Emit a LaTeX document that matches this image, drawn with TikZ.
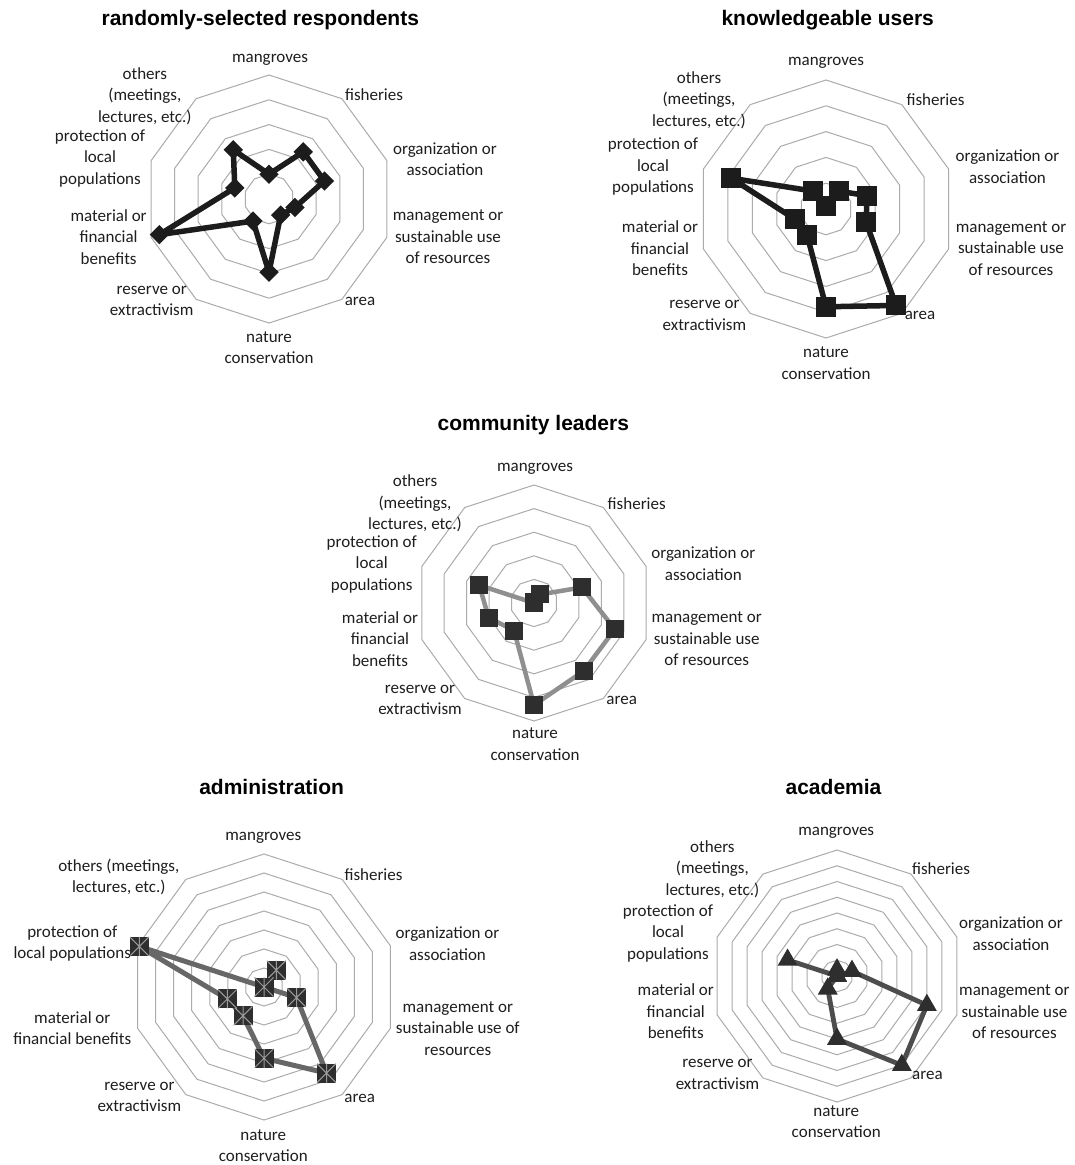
\documentclass[tikz,border=0pt]{standalone}
\usepackage{fontspec}
\setmainfont{Carlito}
\newfontfamily\ttlfont{Liberation Sans}
\usetikzlibrary{shapes.geometric}
\definecolor{gridc}{HTML}{ABABAB}
\definecolor{txtc}{HTML}{1E1E1E}
\definecolor{mkc}{HTML}{2E2E2E}
\definecolor{lnA}{HTML}{1C1C1C}
\definecolor{lnC}{HTML}{8F8F8F}
\definecolor{lnD}{HTML}{676767}
\definecolor{lnE}{HTML}{4D4D4D}
\definecolor{xc}{HTML}{9A9A9A}
\tikzset{
  ringline/.style={draw=gridc, line width=1pt, line join=miter},
  lbl/.style={align=center, inner sep=0pt, text=txtc, font=\fontsize{17}{21.5}\selectfont},
  ttl/.style={inner sep=0pt, anchor=base, font=\ttlfont\bfseries\fontsize{21}{25}\selectfont},
  lineA/.style={draw=lnA, line width=5.5pt, line join=round},
  lineB/.style={draw=lnA, line width=5.5pt, line join=round},
  lineC/.style={draw=lnC, line width=4.5pt, line join=round},
  lineD/.style={draw=lnD, line width=5pt, line join=round},
  lineE/.style={draw=lnE, line width=4.8pt, line join=round},
  mkA/.style={diamond, fill=lnA, minimum width=19.5pt, minimum height=19.5pt, inner sep=0pt},
  mkB/.style={rectangle, fill=lnA, minimum size=20pt, inner sep=0pt},
  mkC/.style={rectangle, fill=mkc, minimum size=18pt, inner sep=0pt},
  mkD/.style={rectangle, fill=mkc, minimum size=19pt, inner sep=0pt,
    path picture={\draw[xc, line width=1pt]
      (path picture bounding box.north west) -- (path picture bounding box.south east)
      (path picture bounding box.north east) -- (path picture bounding box.south west)
      (path picture bounding box.north) -- (path picture bounding box.south);}},
  mkE/.style={regular polygon, regular polygon sides=3, fill=mkc, minimum size=23pt, inner sep=0pt},
}
% #1 id, #2 cx, #3 cy, #4 R, #5 rings, #6 values, #7 style letter
\newcommand\radarplot[7]{%
  \begin{scope}[shift={(#2,#3)}]
    \foreach \k in {1,...,#5}{
      \pgfmathsetmacro\rr{#4*\k/#5}
      \draw[ringline] (90:\rr pt) \foreach \a in {54,18,-18,-54,-90,-126,-162,-198,-234}{ -- (\a:\rr pt)} -- cycle;
    }
    \foreach \v [count=\i from 0] in {#6}{
      \pgfmathsetmacro\rr{#4*\v/#5}
      \coordinate (#1\i) at ({90-36*\i}:\rr pt);
    }
    \draw[line#7] (#10) -- (#11) -- (#12) -- (#13) -- (#14) -- (#15) -- (#16) -- (#17) -- (#18) -- (#19) -- cycle;
    \foreach \i in {0,...,9}{ \node[mk#7] (#1m\i) at (#1\i) {}; }
  \end{scope}
}
\begin{document}
\begin{tikzpicture}[x=1pt, y=-1pt]
\fill[white] (0,0) rectangle (1075,1165);
\useasboundingbox (0,0) rectangle (1075,1165);

% ---------- chart 1 ----------
\node[ttl] (tA) at (260.3,25.5) {randomly-selected respondents};
\radarplot{A}{269}{199}{124}{5}{1.0,2.35,2.35,1.1,0.8,2.95,1.1,4.65,1.45,2.45}{A}
\node[lbl] (A-l0) at (270,60) {mangroves};
\node[lbl] (A-l1) at (374,95) {fisheries};
\node[lbl] (A-l2) at (445,159) {organization or\\association};
\node[lbl] (A-l3) at (448,237) {management or\\sustainable use\\of resources};
\node[lbl] (A-l4) at (360,301.7) {area};
\node[lbl] (A-l5) at (269,347.5) {nature\\conservation};
\node[lbl] (A-l6) at (151.7,301) {reserve or\\extractivism};
\node[lbl] (A-l7) at (108.6,237) {material or\\financial\\benefits};
\node[lbl] (A-l8) at (100,158.3) {protection of\\local\\populations};
\node[lbl] (A-l9) at (144.8,95.8) {others\\(meetings,\\lectures, etc.)};

% ---------- chart 2 ----------
\node[ttl] (tB) at (827.7,25.5) {knowledgeable users};
\radarplot{B}{826}{209}{129}{5}{0.1,0.85,1.68,1.63,4.62,3.79,1.25,1.27,3.86,0.86}{B}
\node[lbl] (B-l0) at (826,63.3) {mangroves};
\node[lbl] (B-l1) at (935.5,100) {fisheries};
\node[lbl] (B-l2) at (1007.5,166.7) {organization or\\association};
\node[lbl] (B-l3) at (1011,248.6) {management or\\sustainable use\\of resources};
\node[lbl] (B-l4) at (920,315) {area};
\node[lbl] (B-l5) at (826,363.3) {nature\\conservation};
\node[lbl] (B-l6) at (704.4,315.5) {reserve or\\extractivism};
\node[lbl] (B-l7) at (660,248.4) {material or\\financial\\benefits};
\node[lbl] (B-l8) at (653,166.5) {protection of\\local\\populations};
\node[lbl] (B-l9) at (699,100.2) {others\\(meetings,\\lectures, etc.)};

% ---------- chart 3 ----------
\node[ttl] (tC) at (533.3,430.7) {community leaders};
\radarplot{C}{534}{603}{118}{5}{0.05,0.45,2.14,3.6,3.57,4.32,1.44,2.02,2.44,0}{C}
\node[lbl] (C-l0) at (535,469) {mangroves};
\node[lbl] (C-l1) at (636.7,503.3) {fisheries};
\node[lbl] (C-l2) at (703.3,563.7) {organization or\\association};
\node[lbl] (C-l3) at (706.7,639.1) {management or\\sustainable use\\of resources};
\node[lbl] (C-l4) at (621.7,700) {area};
\node[lbl] (C-l5) at (535,744.2) {nature\\conservation};
\node[lbl] (C-l6) at (420,699.7) {reserve or\\extractivism};
\node[lbl] (C-l7) at (380,639.1) {material or\\financial\\benefits};
\node[lbl] (C-l8) at (371.7,564.1) {protection of\\local\\populations};
\node[lbl] (C-l9) at (415,503.3) {others\\(meetings,\\lectures, etc.)};

% ---------- chart 4 ----------
\node[ttl] (tD) at (271.6,794.3) {administration};
\radarplot{D}{264}{987}{133}{7}{0,1.1,0,1.8,5.6,3.75,1.88,2.03,6.9,0}{D}
\node[lbl] (D-l0) at (263.3,838.3) {mangroves};
\node[lbl] (D-l1) at (373.5,875) {fisheries};
\node[lbl] (D-l2) at (447.5,943.8) {organization or\\association};
\node[lbl] (D-l3) at (457.8,1028.4) {management or\\sustainable use of\\resources};
\node[lbl] (D-l4) at (359.7,1098.3) {area};
\node[lbl] (D-l5) at (263.3,1145.5) {nature\\conservation};
\node[lbl] (D-l6) at (139.4,1096.7) {reserve or\\extractivism};
\node[lbl] (D-l7) at (72.3,1028.3) {material or\\financial benefits};
\node[lbl] (D-l8) at (72.3,943.7) {protection of\\local populations};
\node[lbl] (D-l9) at (118.8,877) {others (meetings,\\lectures, etc.)};

% ---------- chart 5 ----------
\node[ttl] (tE) at (833.5,794) {academia};
\radarplot{E}{837}{976}{126}{8}{0.4,0,1.0,6.0,7.0,4.0,1.0,0,3.3,0}{E}
\node[lbl] (E-l0) at (836.2,833.3) {mangroves};
\node[lbl] (E-l1) at (941,869) {fisheries};
\node[lbl] (E-l2) at (1011,933.7) {organization or\\association};
\node[lbl] (E-l3) at (1014.4,1011.7) {management or\\sustainable use\\of resources};
\node[lbl] (E-l4) at (927.4,1075) {area};
\node[lbl] (E-l5) at (836.2,1121.7) {nature\\conservation};
\node[lbl] (E-l6) at (717.5,1074.5) {reserve or\\extractivism};
\node[lbl] (E-l7) at (675.8,1011.3) {material or\\financial\\benefits};
\node[lbl] (E-l8) at (668,933) {protection of\\local\\populations};
\node[lbl] (E-l9) at (712.4,869.1) {others\\(meetings,\\lectures, etc.)};
\end{tikzpicture}
\end{document}
